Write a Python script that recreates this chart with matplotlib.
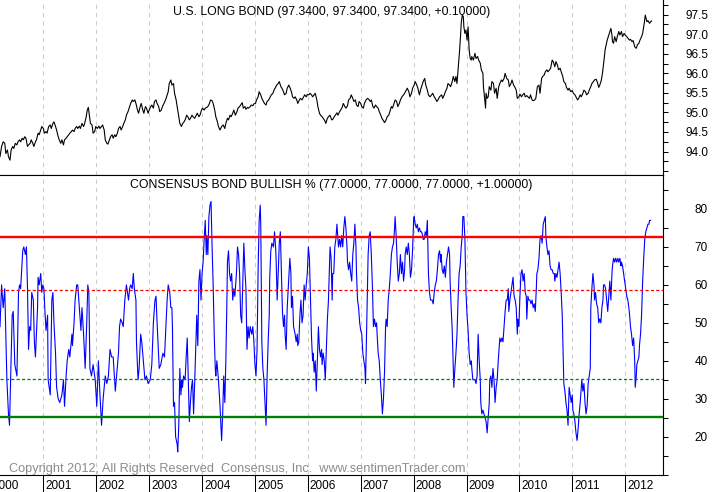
import numpy as np
import matplotlib
matplotlib.use('Agg')
import matplotlib.pyplot as plt
import matplotlib.transforms as mtransforms
from matplotlib.ticker import MultipleLocator, FixedLocator, FormatStrFormatter

plt.rcParams['font.family'] = ['Liberation Sans', 'DejaVu Sans']

# U.S. long bond (decimal year, price)
bond_year = [
    2000.18, 2000.21, 2000.24, 2000.27, 2000.29, 2000.32, 2000.34, 2000.37, 2000.39, 2000.42,
    2000.44, 2000.47, 2000.50, 2000.52, 2000.55, 2000.57, 2000.60, 2000.62, 2000.65, 2000.67,
    2000.70, 2000.72, 2000.75, 2000.77, 2000.80, 2000.82, 2000.85, 2000.87, 2000.90, 2000.92,
    2000.95, 2000.97, 2001.00, 2001.02, 2001.05, 2001.07, 2001.10, 2001.13, 2001.15, 2001.18,
    2001.20, 2001.23, 2001.25, 2001.28, 2001.30, 2001.33, 2001.35, 2001.38, 2001.40, 2001.43,
    2001.45, 2001.48, 2001.50, 2001.53, 2001.55, 2001.58, 2001.60, 2001.63, 2001.65, 2001.68,
    2001.70, 2001.73, 2001.76, 2001.78, 2001.81, 2001.83, 2001.85, 2001.87, 2001.89, 2001.92,
    2001.94, 2001.97, 2001.99, 2002.02, 2002.05, 2002.07, 2002.10, 2002.12, 2002.15, 2002.17,
    2002.20, 2002.22, 2002.25, 2002.27, 2002.30, 2002.32, 2002.35, 2002.37, 2002.40, 2002.42,
    2002.45, 2002.47, 2002.50, 2002.52, 2002.55, 2002.57, 2002.60, 2002.63, 2002.65, 2002.68,
    2002.70, 2002.73, 2002.75, 2002.78, 2002.80, 2002.83, 2002.85, 2002.88, 2002.90, 2002.93,
    2002.95, 2002.98, 2003.00, 2003.03, 2003.05, 2003.08, 2003.10, 2003.13, 2003.15, 2003.18,
    2003.20, 2003.23, 2003.25, 2003.28, 2003.31, 2003.33, 2003.36, 2003.38, 2003.41, 2003.43,
    2003.46, 2003.48, 2003.51, 2003.53, 2003.56, 2003.58, 2003.61, 2003.63, 2003.66, 2003.68,
    2003.71, 2003.73, 2003.76, 2003.78, 2003.81, 2003.83, 2003.86, 2003.89, 2003.91, 2003.94,
    2003.96, 2003.99, 2004.01, 2004.04, 2004.06, 2004.09, 2004.11, 2004.14, 2004.16, 2004.19,
    2004.21, 2004.24, 2004.26, 2004.29, 2004.31, 2004.34,
    2004.37, 2004.40, 2004.43, 2004.45, 2004.48, 2004.50, 2004.53, 2004.55, 2004.58, 2004.60,
    2004.63, 2004.66, 2004.68, 2004.71, 2004.73, 2004.76, 2004.78, 2004.81, 2004.83, 2004.86,
    2004.88, 2004.91, 2004.93, 2004.96, 2004.98, 2005.01, 2005.03, 2005.06, 2005.08, 2005.11,
    2005.13, 2005.16, 2005.18, 2005.21, 2005.23, 2005.26, 2005.29, 2005.31, 2005.34, 2005.36,
    2005.39, 2005.41, 2005.44, 2005.46, 2005.49, 2005.51, 2005.54, 2005.56, 2005.59, 2005.61,
    2005.64, 2005.66, 2005.69, 2005.71, 2005.74, 2005.76, 2005.79, 2005.81, 2005.84, 2005.86,
    2005.89, 2005.92, 2005.94, 2005.97, 2005.99, 2006.02, 2006.04, 2006.07, 2006.09, 2006.12,
    2006.14, 2006.17, 2006.19, 2006.22, 2006.24, 2006.27, 2006.29, 2006.32, 2006.34, 2006.37,
    2006.39, 2006.42, 2006.45, 2006.47, 2006.50, 2006.52, 2006.55, 2006.57, 2006.60, 2006.62,
    2006.65, 2006.67, 2006.70, 2006.72, 2006.75, 2006.77, 2006.80, 2006.82, 2006.85, 2006.87,
    2006.90, 2006.92, 2006.95, 2006.97, 2007.00, 2007.02, 2007.05, 2007.07, 2007.10, 2007.13,
    2007.15, 2007.18, 2007.20, 2007.23, 2007.25, 2007.28, 2007.30, 2007.33, 2007.35, 2007.38,
    2007.40, 2007.43, 2007.45, 2007.48, 2007.50, 2007.53, 2007.55, 2007.58, 2007.60, 2007.63,
    2007.65, 2007.68, 2007.70, 2007.73, 2007.75, 2007.78, 2007.81, 2007.83, 2007.86, 2007.88,
    2007.91, 2007.93, 2007.96, 2007.98, 2008.01, 2008.03, 2008.06, 2008.08, 2008.11, 2008.13,
    2008.16, 2008.18, 2008.21, 2008.23, 2008.26, 2008.28, 2008.31, 2008.34, 2008.36, 2008.39,
    2008.41, 2008.44, 2008.46, 2008.49,
    2008.53, 2008.55, 2008.58, 2008.60, 2008.63, 2008.65, 2008.68, 2008.70, 2008.73, 2008.75,
    2008.78, 2008.80, 2008.82, 2008.84, 2008.87, 2008.89, 2008.90, 2008.92, 2008.94, 2008.95,
    2008.97, 2008.99, 2009.01, 2009.03, 2009.05, 2009.07, 2009.09, 2009.10, 2009.13, 2009.16,
    2009.18, 2009.21, 2009.23, 2009.26, 2009.28, 2009.31, 2009.32, 2009.34, 2009.36, 2009.37,
    2009.39, 2009.41, 2009.43, 2009.46, 2009.48, 2009.51, 2009.53, 2009.56, 2009.58, 2009.61,
    2009.63, 2009.66, 2009.68, 2009.71, 2009.73, 2009.76, 2009.79, 2009.81, 2009.84, 2009.86,
    2009.89, 2009.91, 2009.94, 2009.96, 2009.99, 2010.01, 2010.04, 2010.06, 2010.09, 2010.11,
    2010.14, 2010.16, 2010.19, 2010.21, 2010.24, 2010.26, 2010.29, 2010.31, 2010.34, 2010.37,
    2010.39, 2010.42, 2010.44, 2010.47, 2010.49, 2010.52, 2010.54, 2010.57, 2010.59, 2010.62,
    2010.64, 2010.67, 2010.69, 2010.72, 2010.74, 2010.77, 2010.79, 2010.82, 2010.84, 2010.87,
    2010.89, 2010.92, 2010.94, 2010.97, 2011.00, 2011.02, 2011.05, 2011.07, 2011.10, 2011.12,
    2011.15, 2011.17, 2011.20, 2011.22, 2011.25, 2011.27, 2011.30, 2011.32, 2011.35, 2011.37,
    2011.40, 2011.42, 2011.45, 2011.47, 2011.50, 2011.52, 2011.55, 2011.57, 2011.60, 2011.62,
    2011.64, 2011.66, 2011.69, 2011.71, 2011.73, 2011.75, 2011.76, 2011.78, 2011.80, 2011.83,
    2011.85, 2011.88, 2011.90, 2011.93, 2011.95, 2011.98, 2012.00, 2012.03, 2012.05, 2012.08,
    2012.10, 2012.13, 2012.15, 2012.18, 2012.21, 2012.23, 2012.26, 2012.28, 2012.31, 2012.33,
    2012.36, 2012.38, 2012.41, 2012.43, 2012.46, 2012.48, 2012.50,
]
bond_price = [
    93.87, 94.13, 94.25, 94.21, 93.95, 94.04, 93.87, 93.78, 94.04, 94.13,
    94.08, 94.21, 94.17, 94.25, 94.30, 94.25, 94.34, 94.30, 94.38, 94.34,
    94.13, 94.17, 94.21, 94.30, 94.21, 94.13, 94.25, 94.30, 94.47, 94.43,
    94.55, 94.64, 94.59, 94.47, 94.51, 94.47, 94.64, 94.68, 94.59, 94.72,
    94.76, 94.64, 94.55, 94.38, 94.30, 94.21, 94.30, 94.17, 94.30, 94.34,
    94.38, 94.43, 94.47, 94.51, 94.55, 94.51, 94.59, 94.64, 94.59, 94.65,
    94.59, 94.72, 94.64, 94.72, 94.89, 95.06, 95.13, 94.93, 94.72, 94.68,
    94.47, 94.51, 94.64, 94.59, 94.65, 94.59, 94.64, 94.68, 94.55, 94.30,
    94.21, 94.19, 94.30, 94.38, 94.43, 94.34, 94.43, 94.38, 94.47, 94.59,
    94.64, 94.55, 94.64, 94.72, 94.81, 94.93, 95.02, 95.15, 95.23, 95.32,
    95.28, 95.32, 95.23, 95.06, 94.98, 95.15, 95.23, 95.06, 94.98, 95.15,
    95.11, 94.98, 95.06, 95.15, 95.19, 95.11, 95.28, 95.32, 95.23, 95.15,
    95.02, 95.06, 95.15, 95.23, 95.32, 95.40, 95.53, 95.74, 95.83, 95.70,
    95.74, 95.49, 95.32, 95.15, 94.89, 94.72, 94.64, 94.71, 94.76, 94.81,
    94.93, 94.89, 94.81, 94.85, 94.93, 94.89, 94.85, 94.93, 94.98, 94.89,
    94.93, 95.06, 95.11, 95.06, 95.11, 95.13, 95.15, 95.23, 95.32, 95.30,
    95.23, 95.06, 94.89, 94.76, 94.64, 94.55,
    94.64, 94.68, 94.59, 94.72, 94.85, 94.81, 94.93, 94.89, 94.98, 95.06,
    94.93, 95.02, 95.11, 95.15, 95.19, 95.25, 95.11, 95.15, 95.08, 95.13,
    95.11, 95.15, 95.19, 95.17, 95.22, 95.23, 95.32, 95.40, 95.53, 95.45,
    95.36, 95.28, 95.23, 95.19, 95.28, 95.32, 95.40, 95.45, 95.49, 95.57,
    95.64, 95.70, 95.74, 95.79, 95.66, 95.62, 95.53, 95.45, 95.49, 95.62,
    95.70, 95.64, 95.53, 95.40, 95.36, 95.40, 95.32, 95.23, 95.32, 95.36,
    95.32, 95.40, 95.45, 95.40, 95.46, 95.45, 95.49, 95.45, 95.40, 95.45,
    95.49, 95.32, 95.15, 94.98, 94.93, 94.89, 94.85, 94.79, 94.72, 94.85,
    94.89, 94.93, 94.81, 94.82, 94.89, 94.93, 94.99, 94.93, 95.02, 95.06,
    95.13, 95.23, 95.15, 95.11, 95.17, 95.32, 95.36, 95.45, 95.36, 95.28,
    95.32, 95.19, 95.15, 95.28, 95.23, 95.15, 95.11, 95.23, 95.32, 95.36,
    95.34, 95.28, 95.32, 95.15, 95.11, 95.19, 95.15, 95.11, 95.02, 94.93,
    94.85, 94.79, 94.74, 94.81, 94.89, 94.93, 95.02, 95.15, 95.11, 95.23,
    95.32, 95.28, 95.15, 95.23, 95.32, 95.40, 95.45, 95.49, 95.57, 95.62,
    95.53, 95.40, 95.49, 95.62, 95.70, 95.79, 95.70, 95.62, 95.45, 95.57,
    95.70, 95.79, 95.87, 95.70, 95.57, 95.45, 95.40, 95.45, 95.49, 95.40,
    95.36, 95.28, 95.32, 95.40,
    95.45, 95.36, 95.45, 95.53, 95.62, 95.74, 95.70, 95.66, 95.79, 95.92,
    95.79, 95.92, 95.74, 96.09, 96.60, 97.02, 97.28, 97.49, 97.45, 97.19,
    97.02, 97.11, 96.85, 97.19, 96.60, 96.38, 96.34, 96.43, 96.34, 96.51,
    96.38, 96.43, 96.34, 96.26, 96.09, 96.00, 95.66, 95.40, 95.11, 95.49,
    95.36, 95.40, 95.66, 95.57, 95.79, 95.74, 95.49, 95.62, 95.36, 95.66,
    95.74, 95.83, 95.79, 95.87, 96.00, 95.87, 95.83, 95.66, 95.74, 95.83,
    95.70, 95.66, 95.57, 95.36, 95.40, 95.47, 95.40, 95.45, 95.49, 95.40,
    95.43, 95.40, 95.36, 95.45, 95.32, 95.30, 95.32, 95.36, 95.66, 95.70,
    95.49, 95.87, 95.92, 95.96, 96.04, 96.09, 96.04, 96.09, 96.13, 96.34,
    96.30, 96.17, 96.30, 96.21, 96.09, 96.13, 96.04, 95.92, 95.79, 95.74,
    95.64, 95.57, 95.62, 95.53, 95.56, 95.49, 95.45, 95.40, 95.32, 95.36,
    95.45, 95.40, 95.49, 95.57, 95.53, 95.45, 95.49, 95.57, 95.66, 95.74,
    95.79, 95.83, 95.85, 95.79, 95.64, 95.70, 95.83, 96.00, 96.34, 96.60,
    96.73, 96.85, 96.98, 97.07, 97.15, 96.98, 96.81, 96.77, 96.94, 96.81,
    96.94, 97.07, 96.98, 97.07, 96.94, 97.02, 96.98, 96.94, 96.90, 96.85,
    96.87, 96.81, 96.84, 96.68, 96.64, 96.73, 96.77, 96.85, 96.94, 97.02,
    97.28, 97.49, 97.32, 97.35, 97.28, 97.32, 97.34,
]

# Consensus bond bullish % (decimal year, percent)
bull_year = [
    2000.18, 2000.21, 2000.24, 2000.27, 2000.31, 2000.34, 2000.36, 2000.38, 2000.41, 2000.43,
    2000.46, 2000.50, 2000.53, 2000.55, 2000.57, 2000.61, 2000.63, 2000.66, 2000.68, 2000.70,
    2000.72, 2000.74, 2000.76, 2000.78, 2000.81, 2000.83, 2000.85, 2000.89, 2000.90, 2000.92,
    2000.95, 2000.97, 2000.99, 2001.01, 2001.03, 2001.05, 2001.08, 2001.09, 2001.13, 2001.16,
    2001.18, 2001.20, 2001.23, 2001.25, 2001.28, 2001.31, 2001.35, 2001.38, 2001.40, 2001.43,
    2001.45, 2001.48, 2001.50, 2001.54, 2001.55, 2001.58, 2001.60, 2001.63, 2001.65, 2001.68,
    2001.71, 2001.73, 2001.76, 2001.79, 2001.82, 2001.84, 2001.86, 2001.88, 2001.91, 2001.94,
    2001.98, 2002.01, 2002.04, 2002.07, 2002.10, 2002.13, 2002.17, 2002.20, 2002.23, 2002.26,
    2002.29, 2002.32, 2002.36, 2002.39, 2002.42, 2002.44, 2002.46, 2002.49, 2002.51, 2002.54,
    2002.57, 2002.61, 2002.63, 2002.65, 2002.68, 2002.70, 2002.72, 2002.75, 2002.76, 2002.79,
    2002.81, 2002.84, 2002.86, 2002.89, 2002.92, 2002.95, 2002.98, 2003.02, 2003.05, 2003.08,
    2003.11, 2003.13, 2003.15, 2003.19, 2003.22, 2003.26, 2003.29, 2003.32, 2003.34,
    2003.36, 2003.39, 2003.41, 2003.43, 2003.44, 2003.46, 2003.48, 2003.50, 2003.53, 2003.54,
    2003.56, 2003.58, 2003.60, 2003.62, 2003.63, 2003.65, 2003.68, 2003.70, 2003.72, 2003.74,
    2003.76, 2003.78, 2003.80, 2003.82, 2003.84, 2003.86, 2003.88, 2003.90, 2003.92, 2003.94,
    2003.96, 2003.98, 2004.00, 2004.02, 2004.04, 2004.06, 2004.08, 2004.09, 2004.11, 2004.13,
    2004.15, 2004.17, 2004.19, 2004.21, 2004.23, 2004.25, 2004.26, 2004.28, 2004.31, 2004.34,
    2004.36, 2004.37, 2004.39, 2004.41, 2004.43, 2004.45, 2004.47, 2004.48, 2004.50, 2004.52,
    2004.54, 2004.56, 2004.58, 2004.60, 2004.62, 2004.65, 2004.67, 2004.69, 2004.71, 2004.73,
    2004.75, 2004.77, 2004.79, 2004.81, 2004.83, 2004.85, 2004.87, 2004.89, 2004.91, 2004.94,
    2004.96, 2004.98, 2005.00, 2005.02, 2005.04, 2005.06, 2005.08, 2005.10, 2005.11, 2005.13,
    2005.15, 2005.17, 2005.19, 2005.21, 2005.23, 2005.25, 2005.27, 2005.28, 2005.30, 2005.32,
    2005.35, 2005.37, 2005.39, 2005.40, 2005.42, 2005.44, 2005.46, 2005.48, 2005.50, 2005.52,
    2005.54, 2005.56, 2005.57, 2005.59, 2005.61, 2005.64, 2005.66, 2005.68, 2005.69, 2005.71,
    2005.73, 2005.76, 2005.78, 2005.80, 2005.81, 2005.83, 2005.85, 2005.87, 2005.89, 2005.91,
    2005.93, 2005.95, 2005.97, 2005.99, 2006.01, 2006.03, 2006.05, 2006.07, 2006.09, 2006.10,
    2006.12, 2006.14, 2006.16, 2006.18, 2006.20, 2006.22, 2006.24, 2006.26, 2006.27, 2006.29,
    2006.31, 2006.33, 2006.35, 2006.37, 2006.39, 2006.41,
    2006.42, 2006.44, 2006.46, 2006.47, 2006.49, 2006.51, 2006.53, 2006.55, 2006.56, 2006.58,
    2006.60, 2006.62, 2006.64, 2006.66, 2006.68, 2006.70, 2006.72, 2006.74, 2006.75, 2006.77,
    2006.79, 2006.81, 2006.83, 2006.85, 2006.87, 2006.89, 2006.91, 2006.92, 2006.94, 2006.96,
    2006.98, 2007.00, 2007.02, 2007.04, 2007.06, 2007.08, 2007.09, 2007.11, 2007.13, 2007.14,
    2007.16, 2007.18, 2007.20, 2007.22, 2007.24, 2007.26, 2007.28, 2007.30, 2007.31, 2007.33,
    2007.35, 2007.37, 2007.39, 2007.41, 2007.43, 2007.45, 2007.47, 2007.48, 2007.50, 2007.52,
    2007.54, 2007.56, 2007.58, 2007.60, 2007.62, 2007.64, 2007.65, 2007.67, 2007.69, 2007.71,
    2007.73, 2007.75, 2007.77, 2007.79, 2007.81, 2007.83, 2007.84, 2007.86, 2007.88, 2007.90,
    2007.92, 2007.94, 2007.96, 2007.98, 2008.00, 2008.01, 2008.03, 2008.05, 2008.07, 2008.09,
    2008.11, 2008.13, 2008.15, 2008.17, 2008.18, 2008.20, 2008.22, 2008.24, 2008.26, 2008.28,
    2008.30, 2008.32, 2008.34, 2008.35, 2008.37, 2008.39, 2008.41, 2008.43, 2008.45, 2008.47,
    2008.49, 2008.51, 2008.52, 2008.54, 2008.56, 2008.58, 2008.60, 2008.62, 2008.64, 2008.66,
    2008.68, 2008.69, 2008.71, 2008.73, 2008.75, 2008.76, 2008.78, 2008.80, 2008.82, 2008.84,
    2008.86, 2008.88, 2008.90, 2008.92, 2008.93, 2008.95, 2008.97, 2008.99, 2009.01, 2009.03,
    2009.05, 2009.07, 2009.09, 2009.10, 2009.12, 2009.14, 2009.16, 2009.18, 2009.20, 2009.22,
    2009.24, 2009.26, 2009.27, 2009.29, 2009.31, 2009.33, 2009.35, 2009.37, 2009.39, 2009.41,
    2009.43, 2009.44, 2009.46, 2009.48, 2009.50, 2009.52,
    2009.54, 2009.56, 2009.58, 2009.60, 2009.62, 2009.63, 2009.65, 2009.67, 2009.69, 2009.71,
    2009.73, 2009.75, 2009.77, 2009.79, 2009.80, 2009.82, 2009.84, 2009.86, 2009.88, 2009.90,
    2009.92, 2009.94, 2009.96, 2009.97, 2009.99, 2010.01, 2010.03, 2010.05, 2010.07, 2010.09,
    2010.11, 2010.13, 2010.14, 2010.16, 2010.18, 2010.20, 2010.22, 2010.24, 2010.26, 2010.28,
    2010.30, 2010.32, 2010.33, 2010.35, 2010.37, 2010.39, 2010.41, 2010.43, 2010.45, 2010.47,
    2010.49, 2010.50, 2010.52, 2010.54, 2010.56, 2010.58, 2010.60, 2010.62, 2010.64, 2010.66,
    2010.67, 2010.69, 2010.71, 2010.73, 2010.75, 2010.77, 2010.79, 2010.81, 2010.83, 2010.84,
    2010.86, 2010.88, 2010.90, 2010.92, 2010.94, 2010.96, 2010.98, 2011.00, 2011.01, 2011.03,
    2011.05, 2011.07, 2011.09, 2011.11, 2011.13, 2011.15, 2011.17, 2011.18, 2011.20, 2011.22,
    2011.24, 2011.26, 2011.28, 2011.30, 2011.32, 2011.34, 2011.35, 2011.37, 2011.39, 2011.41,
    2011.42, 2011.44, 2011.46, 2011.48, 2011.50, 2011.52, 2011.54, 2011.56, 2011.58, 2011.59,
    2011.61, 2011.63, 2011.65, 2011.67, 2011.69, 2011.71, 2011.73, 2011.75, 2011.76, 2011.78,
    2011.80, 2011.82, 2011.84, 2011.86, 2011.88, 2011.90, 2011.92, 2011.93, 2011.95, 2011.97,
    2011.99, 2012.01, 2012.03, 2012.05, 2012.07, 2012.09, 2012.10, 2012.12, 2012.14, 2012.16,
    2012.18, 2012.19, 2012.21, 2012.22, 2012.24, 2012.26, 2012.27, 2012.29, 2012.31, 2012.33,
    2012.35, 2012.37, 2012.39, 2012.41, 2012.43, 2012.45, 2012.46, 2012.48,
]
bull_pct = [
    49, 60, 54, 59, 35, 26, 23, 35, 52, 53,
    39, 36, 58, 60, 59, 69, 70, 68, 70, 59,
    43, 49, 48, 58, 56, 45, 41, 54, 62, 60,
    63, 58, 60, 59, 53, 48, 52, 35, 31, 56,
    58, 50, 42, 33, 30, 29, 31, 35, 28, 36,
    40, 43, 41, 47, 44, 50, 56, 60, 60, 54,
    48, 54, 47, 38, 50, 60, 58, 38, 36, 39,
    35, 28, 40, 31, 23, 30, 36, 34, 36, 43,
    41, 41, 32, 37, 42, 49, 51, 50, 49, 56,
    60, 56, 59, 60, 59, 63, 59, 56, 45, 35,
    38, 47, 45, 40, 35, 36, 34, 35, 39, 50,
    56, 57, 50, 38, 39, 42, 41, 50, 56,
    60, 58, 54, 54, 49, 28, 29, 20, 18, 16,
    23, 38, 31, 35, 33, 36, 35, 41, 46, 35,
    24, 29, 33, 35, 26, 34, 43, 52, 44, 61,
    64, 56, 63, 66, 72, 77, 68, 73, 68, 78,
    81, 82, 70, 60, 47, 38, 36, 40, 35, 28,
    22, 19, 26, 36, 29, 40, 56, 66, 69, 63,
    61, 63, 56, 59, 57, 63, 70, 68, 63, 52,
    50, 60, 71, 64, 59, 43, 49, 46, 49, 47,
    49, 45, 39, 36, 43, 64, 77, 81, 76, 45,
    38, 35, 29, 23, 36, 45, 52, 62, 69, 71,
    70, 74, 70, 67, 56, 63, 71, 74, 64, 53,
    49, 52, 47, 43, 54, 62, 67, 63, 54, 57,
    49, 47, 45, 47, 44, 45, 52, 56, 50, 52,
    60, 56, 60, 63, 70, 67, 56, 46, 40, 42,
    37, 40, 32, 40, 49, 43, 41, 43, 39, 42,
    40, 35, 43, 51, 56, 66,
    70, 67, 56, 63, 63, 70, 72, 76, 74, 70,
    72, 70, 73, 70, 75, 78, 75, 70, 66, 64,
    66, 63, 61, 68, 71, 76, 70, 63, 56, 54,
    50, 48, 47, 42, 40, 38, 34, 47, 62, 68,
    73, 74, 68, 60, 49, 51, 49, 50, 47, 42,
    40, 35, 31, 26, 30, 37, 49, 51, 49, 56,
    59, 63, 68, 70, 71, 75, 78, 73, 66, 61,
    63, 68, 63, 66, 61, 64, 68, 70, 68, 71,
    68, 62, 64, 69, 77, 78, 76, 75, 76, 74,
    75, 74, 74, 73, 72, 72, 74, 73, 77, 63,
    58, 56, 56, 56, 55, 58, 60, 61, 64, 68,
    69, 66, 68, 64, 63, 65, 62, 66, 68, 70,
    68, 61, 54, 48, 38, 33, 38, 42, 47, 56,
    63, 65, 70, 73, 78, 78, 72, 58, 52, 48,
    42, 39, 40, 38, 35, 35, 35, 34, 36, 47,
    40, 35, 29, 26, 27, 26, 25, 24, 21, 25,
    29, 35, 36, 33, 38, 35,
    29, 33, 35, 40, 44, 46, 45, 46, 45, 49,
    53, 56, 56, 59, 53, 56, 58, 60, 62, 57,
    56, 54, 47, 51, 49, 57, 63, 64, 61, 63,
    58, 57, 51, 57, 56, 56, 55, 56, 54, 55,
    53, 59, 63, 64, 67, 72, 73, 71, 76, 77,
    78, 73, 70, 68, 69, 65, 64, 64, 63, 63,
    61, 63, 62, 64, 66, 63, 58, 52, 40, 34,
    32, 29, 27, 23, 33, 31, 29, 31, 27, 26,
    24, 21, 19, 22, 26, 29, 33, 35, 32, 34,
    29, 26, 28, 34, 36, 38, 54, 59, 63, 60,
    56, 58, 55, 54, 50, 51, 50, 54, 56, 60,
    60, 59, 56, 53, 57, 61, 56, 63, 65, 67,
    66, 67, 66, 67, 66, 67, 65, 66, 65, 63,
    61, 59, 57, 56, 54, 51, 49, 47, 44, 46,
    40, 33, 36, 39, 40, 41, 44, 47, 52, 61,
    67, 72, 74, 75, 76, 76, 77, 77,
]

# reference levels drawn across the sentiment panel
bull_levels = [72.7, 58.6, 35.2, 25.3]
level_colors = ['#ff0000', '#ff0000', '#008000', '#008000']
level_dashed = [False, True, True, False]

years = list(range(2000, 2013))
bond_title = 'U.S. LONG BOND (97.3400, 97.3400, 97.3400, +0.10000)'
bull_title = 'CONSENSUS BOND BULLISH % (77.0000, 77.0000, 77.0000, +1.00000)'
copyright = 'Copyright 2012, All Rights Reserved  Consensus, Inc.  www.sentimenTrader.com'

fig = plt.figure(figsize=(7.12, 4.92), dpi=100)
ax1 = fig.add_axes([0, 317 / 492, 663 / 712, 175 / 492])
ax2 = fig.add_axes([0, 17 / 492, 663 / 712, 300 / 492])

for ax in (ax1, ax2):
    ax.set_xlim(2000.18, 2012.715)
    ax.set_xticks(years[1:])
    ax.grid(axis='x', color='#cccccc', linestyle=(0, (4, 4)), linewidth=0.75)
    ax.set_axisbelow(True)
    ax.spines['left'].set_visible(False)
    ax.spines['top'].set_visible(False)
    ax.spines['right'].set_linewidth(0.8)
    ax.spines['bottom'].set_linewidth(0.8)
    ax.yaxis.tick_right()
    ax.tick_params(axis='y', which='both', direction='out', length=3.6, width=0.75,
                   labelsize=8.5, pad=28.8, colors='black')
    ax.tick_params(axis='x', labelbottom=False)

ax2.spines['top'].set_visible(True)
ax2.spines['top'].set_linewidth(0.8)
ax1.tick_params(axis='x', length=0)
ax2.tick_params(axis='x', direction='out', length=13, width=0.75)

# bond panel
ax1.plot(bond_year, bond_price, color='black', lw=0.8)
ax1.set_ylim(93.40, 97.876)
ax1.yaxis.set_major_locator(FixedLocator([94.0, 94.5, 95.0, 95.5, 96.0, 96.5, 97.0, 97.5]))
ax1.yaxis.set_minor_locator(MultipleLocator(0.25))
ax1.yaxis.set_major_formatter(FormatStrFormatter('%.1f'))
ax1.text(0.5, 1 - 12 / 175, bond_title, transform=ax1.transAxes, ha='center',
         va='center', fontsize=8.8)

# sentiment panel
ax2.plot(bull_year, bull_pct, color='#0000ff', lw=0.8, zorder=2)
for lev, col, dashed in zip(bull_levels, level_colors, level_dashed):
    if dashed:
        ax2.axhline(lev, color=col, lw=0.9, linestyle=(0, (2.5, 1.8)), zorder=3)
    else:
        ax2.axhline(lev, color=col, lw=1.7, zorder=3)
ax2.set_ylim(9.9, 88.96)
ax2.yaxis.set_major_locator(FixedLocator([20, 30, 40, 50, 60, 70, 80]))
ax2.yaxis.set_minor_locator(MultipleLocator(5))
ax2.text(0.5, 1 - 10 / 300, bull_title, transform=ax2.transAxes, ha='center',
         va='center', fontsize=8.8)
ax2.text(9 / 663, 6 / 300, copyright, transform=ax2.transAxes, ha='left', va='center',
         fontsize=9.2, color='#8c8c8c')

for ax in (ax1, ax2):
    for lab in ax.get_yticklabels():
        lab.set_horizontalalignment('right')

# year labels sit just right of each year tick, below the axis
trans = mtransforms.blended_transform_factory(ax2.transData, ax2.transAxes)
trans = mtransforms.offset_copy(trans, fig=fig, x=2, y=-10.7, units='dots')
for yr in years:
    ax2.text(yr, 0, str(yr), transform=trans, ha='left', va='center', fontsize=8.5,
             clip_on=False)

fig.savefig('out.png', dpi=100)
